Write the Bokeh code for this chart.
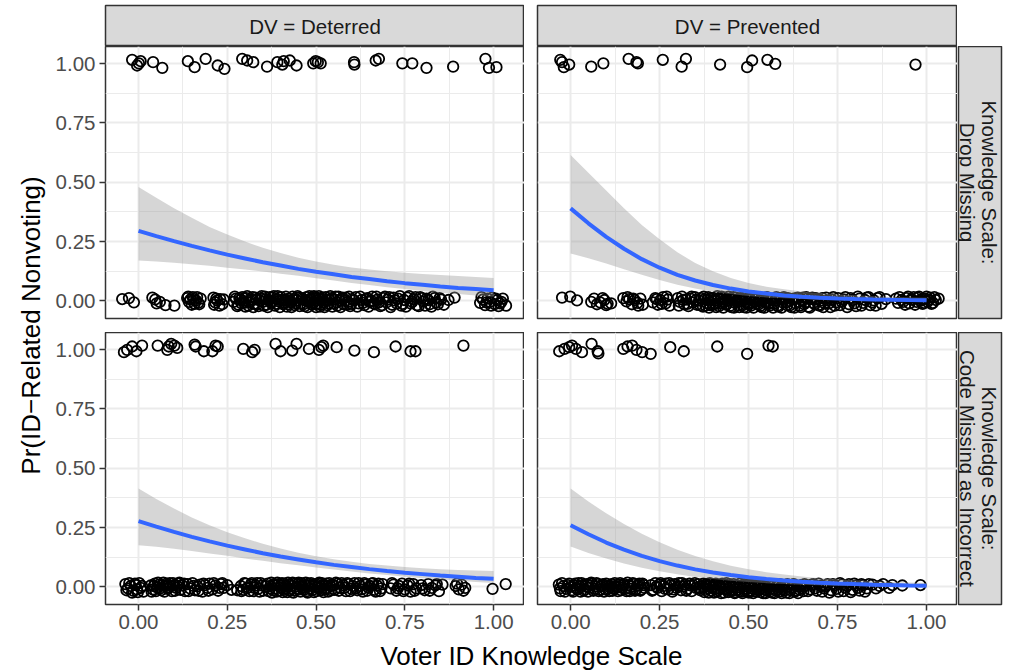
import math
from bokeh.plotting import figure
from bokeh.layouts import row, column
from bokeh.models import Spacer, FixedTicker, Range1d, Label, NumeralTickFormatter
from bokeh.embed import file_html
from bokeh.resources import INLINE

FONT = "Liberation Sans"

# ---------------- data ----------------
col_labels = ["DV = Deterred", "DV = Prevented"]
row_labels = [("Knowledge Scale:", "Drop Missing"),
              ("Knowledge Scale:", "Code Missing as Incorrect")]
x_ticks = [0.0, 0.25, 0.5, 0.75, 1.0]
x_minor = [0.125, 0.375, 0.625, 0.875]
y_ticks = [0.0, 0.25, 0.5, 0.75, 1.0]
y_minor = [0.125, 0.375, 0.625, 0.875]
x_label = "Voter ID Knowledge Scale"
y_label = "Pr(ID\u2212Related Nonvoting)"

fit_x = [0.0, 0.05, 0.1, 0.15, 0.2, 0.25, 0.3, 0.35, 0.4, 0.45, 0.5,
         0.55, 0.6, 0.65, 0.7, 0.75, 0.8, 0.85, 0.9, 0.95, 1.0]

# top-left: Deterred / Drop Missing
tl_fit = [0.295, 0.273, 0.252, 0.232, 0.213, 0.195, 0.179, 0.163, 0.149, 0.135, 0.123,
          0.112, 0.101, 0.092, 0.083, 0.075, 0.068, 0.061, 0.055, 0.05, 0.045]
tl_lo = [0.17, 0.166, 0.161, 0.155, 0.148, 0.14, 0.132, 0.124, 0.115, 0.106, 0.096,
         0.086, 0.076, 0.067, 0.058, 0.05, 0.042, 0.035, 0.029, 0.023, 0.018]
tl_hi = [0.48, 0.435, 0.39, 0.35, 0.312, 0.28, 0.25, 0.224, 0.202, 0.182, 0.166,
         0.152, 0.141, 0.132, 0.125, 0.119, 0.114, 0.109, 0.105, 0.101, 0.097]
# top-right: Prevented / Drop Missing
tr_fit = [0.39, 0.327, 0.27, 0.22, 0.176, 0.14, 0.11, 0.086, 0.067, 0.052, 0.04,
          0.031, 0.023, 0.018, 0.0137, 0.0105, 0.008, 0.006, 0.0046, 0.0035, 0.0027]
tr_lo = [0.2, 0.18, 0.158, 0.134, 0.11, 0.088, 0.068, 0.052, 0.039, 0.029, 0.021,
         0.015, 0.011, 0.008, 0.005, 0.0035, 0.0024, 0.0016, 0.0011, 0.0007, 0.0005]
tr_hi = [0.615, 0.54, 0.465, 0.39, 0.32, 0.26, 0.205, 0.16, 0.125, 0.097, 0.076,
         0.06, 0.049, 0.04, 0.033, 0.028, 0.024, 0.02, 0.017, 0.015, 0.013]
# bottom-left: Deterred / Code Missing as Incorrect
bl_fit = [0.277, 0.254, 0.232, 0.211, 0.192, 0.174, 0.158, 0.142, 0.128, 0.116, 0.104,
          0.093, 0.084, 0.075, 0.067, 0.06, 0.054, 0.048, 0.043, 0.038, 0.034]
bl_lo = [0.176, 0.169, 0.161, 0.151, 0.141, 0.131, 0.12, 0.11, 0.1, 0.091, 0.082,
         0.073, 0.065, 0.057, 0.05, 0.043, 0.037, 0.031, 0.026, 0.021, 0.017]
bl_hi = [0.415, 0.37, 0.33, 0.293, 0.26, 0.23, 0.205, 0.182, 0.162, 0.144, 0.129,
         0.117, 0.106, 0.097, 0.09, 0.084, 0.079, 0.075, 0.071, 0.069, 0.067]
# bottom-right: Prevented / Code Missing as Incorrect
br_fit = [0.26, 0.222, 0.187, 0.157, 0.131, 0.109, 0.09, 0.074, 0.061, 0.05, 0.041,
          0.0335, 0.0273, 0.0222, 0.018, 0.0147, 0.0119, 0.0097, 0.0079, 0.0064, 0.0052]
br_lo = [0.17, 0.143, 0.12, 0.099, 0.081, 0.066, 0.053, 0.042, 0.033, 0.026, 0.021,
         0.016, 0.012, 0.009, 0.007, 0.005, 0.004, 0.003, 0.002, 0.0015, 0.001]
br_hi = [0.415, 0.36, 0.31, 0.265, 0.224, 0.188, 0.157, 0.13, 0.108, 0.089, 0.074,
         0.062, 0.052, 0.044, 0.037, 0.032, 0.028, 0.024, 0.021, 0.019, 0.017]

# jittered observations (x, y)
tl_ones = [(-0.018, 1.016), (-0.004, 0.992), (0.001, 1.001), (0.006, 1.010), (0.041, 1.006),
           (0.067, 0.982), (0.139, 1.010), (0.158, 0.985), (0.189, 1.020), (0.223, 0.992),
           (0.242, 0.978), (0.292, 1.020), (0.306, 1.013), (0.323, 1.006), (0.362, 0.987),
           (0.391, 1.006), (0.405, 0.996), (0.409, 1.010), (0.426, 1.013), (0.445, 0.992),
           (0.492, 1.001), (0.499, 1.010), (0.505, 1.006), (0.513, 1.001), (0.607, 1.006),
           (0.608, 0.996), (0.668, 1.013), (0.677, 1.020), (0.743, 1.001), (0.771, 1.001),
           (0.811, 0.982), (0.886, 0.987), (0.977, 1.020), (0.987, 0.982), (1.008, 0.985)]
tl_zeros = [(-0.046, 0.008), (-0.027, 0.012), (-0.013, -0.006), (0.039, 0.014), (0.047, 0.006),
            (0.051, -0.01), (0.060, -0.004), (0.076, -0.018), (0.101, -0.02),
            (0.137, 0.012), (0.142, -0.004), (0.146, 0.006), (0.153, 0.016), (0.158, -0.012),
            (0.162, 0.002), (0.168, -0.008), (0.175, 0.01),
            (0.211, 0.014), (0.216, -0.006), (0.222, 0.002), (0.228, -0.02), (0.236, -0.014), (0.24, 0.006),
            (0.268, -0.004), (0.274, 0.01), (0.281, -0.016), (0.287, 0.004), (0.292, 0.016), (0.298, -0.008),
            (0.304, 0.012), (0.309, -0.02), (0.315, 0.0), (0.321, 0.016), (0.326, -0.012), (0.333, 0.006),
            (0.338, -0.022), (0.344, 0.012), (0.35, -0.004), (0.356, 0.018), (0.361, -0.016), (0.367, 0.004),
            (0.373, -0.008), (0.378, 0.014), (0.384, -0.02), (0.39, 0.008), (0.395, -0.002), (0.401, 0.016),
            (0.407, -0.014), (0.412, 0.004), (0.418, -0.024), (0.423, 0.01), (0.429, -0.006), (0.434, 0.018),
            (0.44, -0.018), (0.446, 0.002), (0.451, 0.014), (0.457, -0.01), (0.462, 0.006), (0.468, -0.022),
            (0.473, 0.016), (0.479, -0.004), (0.484, 0.01), (0.489, -0.016), (0.494, 0.02), (0.498, 0.0),
            (0.502, -0.012), (0.506, 0.012), (0.511, -0.024), (0.516, 0.006), (0.521, -0.006), (0.527, 0.016),
            (0.532, -0.018), (0.538, 0.004), (0.543, 0.012), (0.549, -0.01), (0.555, 0.018), (0.56, -0.02),
            (0.566, 0.002), (0.572, 0.01), (0.578, -0.014), (0.584, 0.014), (0.59, -0.004), (0.596, -0.022),
            (0.602, 0.008), (0.612, 0.016), (0.62, -0.01), (0.628, 0.004), (0.636, -0.018), (0.644, 0.012),
            (0.651, -0.004), (0.658, 0.018), (0.666, -0.014), (0.673, 0.006), (0.681, -0.022), (0.69, 0.012),
            (0.698, -0.006), (0.706, 0.016), (0.714, -0.016), (0.722, 0.002), (0.731, 0.01), (0.74, -0.02),
            (0.748, 0.004), (0.757, 0.014), (0.766, -0.01), (0.775, 0.008), (0.784, -0.018), (0.793, 0.016),
            (0.802, -0.002), (0.811, 0.01), (0.82, -0.014), (0.829, 0.018), (0.838, -0.006), (0.848, 0.012),
            (0.86, -0.016), (0.873, 0.004), (0.89, 0.014),
            (0.962, -0.008), (0.97, 0.006), (0.976, -0.018), (0.983, 0.01), (0.99, -0.004), (0.996, 0.014),
            (1.003, -0.014), (1.01, 0.004), (1.018, -0.01), (1.026, 0.01), (1.035, -0.02)]
tl_zeros_more = [(0.14, 0.018), (0.15, -0.016), (0.156, 0.008), (0.165, 0.016), (0.171, -0.014),
                 (0.213, -0.016), (0.219, 0.01), (0.23, 0.008), (0.271, 0.018), (0.278, -0.022),
                 (0.284, 0.012), (0.29, -0.01), (0.295, 0.0), (0.301, -0.024), (0.306, 0.02),
                 (0.312, -0.006), (0.318, 0.008), (0.323, -0.026), (0.329, 0.014), (0.335, -0.014),
                 (0.341, 0.004), (0.347, 0.02), (0.353, -0.02), (0.358, 0.008), (0.364, -0.026),
                 (0.37, 0.016), (0.375, -0.002), (0.381, 0.02), (0.387, -0.012), (0.392, 0.02),
                 (0.398, -0.026), (0.404, 0.004), (0.41, -0.008), (0.415, 0.018), (0.421, -0.014),
                 (0.426, 0.0), (0.431, -0.026), (0.437, 0.008), (0.443, -0.01), (0.448, 0.02),
                 (0.454, -0.022), (0.46, 0.012), (0.465, -0.014), (0.47, 0.002), (0.476, -0.026),
                 (0.481, 0.02), (0.487, 0.004), (0.492, -0.008), (0.496, 0.016), (0.5, -0.026),
                 (0.504, 0.004), (0.508, 0.02), (0.513, -0.016), (0.518, 0.014), (0.524, -0.026),
                 (0.53, 0.002), (0.535, -0.01), (0.54, 0.02), (0.546, -0.024), (0.552, 0.006),
                 (0.558, -0.006), (0.563, 0.018), (0.569, -0.026), (0.575, 0.014), (0.581, 0.0),
                 (0.587, -0.016), (0.593, 0.018), (0.599, -0.012), (0.607, 0.002), (0.616, -0.024),
                 (0.624, 0.018), (0.632, -0.008), (0.64, 0.008), (0.648, -0.024), (0.655, 0.002),
                 (0.662, -0.01), (0.67, 0.018), (0.677, -0.006), (0.686, -0.018), (0.694, 0.018),
                 (0.702, 0.006), (0.71, -0.026), (0.718, 0.014), (0.727, -0.01), (0.736, 0.02),
                 (0.744, -0.012), (0.753, -0.024), (0.762, 0.02), (0.771, -0.004), (0.78, 0.016),
                 (0.789, -0.022), (0.798, 0.012), (0.807, -0.02), (0.816, 0.004), (0.825, -0.024),
                 (0.834, 0.012), (0.843, -0.014), (0.852, 0.006), (0.966, 0.016), (0.98, -0.006),
                 (0.993, -0.02), (1.006, 0.01), (1.014, -0.022), (1.022, -0.004)]

tr_ones = [(-0.029, 1.016), (-0.024, 1.006), (-0.019, 0.985), (-0.004, 0.996), (0.058, 0.987),
           (0.092, 1.001), (0.163, 1.020), (0.185, 1.006), (0.189, 1.001), (0.259, 1.016),
           (0.312, 0.987), (0.324, 1.020), (0.420, 0.996), (0.496, 0.985), (0.510, 1.013),
           (0.553, 1.016), (0.575, 0.999), (0.969, 0.996)]
tr_zeros = [(-0.024, 0.014), (-0.001, 0.018), (0.018, 0.002), (0.058, -0.004), (0.066, 0.01),
            (0.074, -0.014), (0.083, -0.006), (0.095, 0.004), (0.104, -0.012), (0.114, -0.01),
            (0.148, 0.012), (0.157, -0.002), (0.165, 0.008), (0.172, -0.014), (0.18, 0.004),
            (0.188, -0.008), (0.196, 0.01), (0.203, -0.016),
            (0.231, -0.006), (0.238, 0.012), (0.245, -0.016), (0.252, 0.004), (0.26, 0.016),
            (0.267, -0.01), (0.273, 0.006), (0.278, -0.02),
            (0.301, 0.012), (0.307, -0.004), (0.313, 0.018), (0.319, -0.014), (0.325, 0.006),
            (0.331, -0.022), (0.337, 0.01), (0.343, -0.006), (0.349, 0.016), (0.355, -0.016),
            (0.361, 0.002), (0.367, 0.012), (0.372, -0.024),
            (0.377, 0.008), (0.382, -0.008), (0.387, 0.016), (0.392, -0.018), (0.397, 0.002),
            (0.402, 0.012), (0.407, -0.012), (0.412, 0.02), (0.417, -0.022), (0.422, 0.006),
            (0.427, -0.004), (0.432, 0.014), (0.437, -0.016), (0.442, 0.0), (0.447, 0.01),
            (0.452, -0.026), (0.457, 0.016), (0.462, -0.008), (0.467, 0.004), (0.472, -0.018),
            (0.477, 0.012), (0.482, -0.002), (0.487, -0.026), (0.492, 0.018), (0.497, -0.01),
            (0.502, 0.006), (0.507, -0.02), (0.512, 0.012), (0.517, -0.004), (0.522, 0.016),
            (0.527, -0.016), (0.532, 0.002), (0.537, -0.026), (0.542, 0.01), (0.548, -0.008),
            (0.554, 0.014), (0.56, -0.02), (0.566, 0.004), (0.572, -0.012), (0.578, 0.016),
            (0.584, -0.024), (0.59, 0.006), (0.596, -0.006), (0.602, 0.012), (0.608, -0.018),
            (0.614, 0.0), (0.62, -0.026), (0.626, 0.01), (0.632, -0.01), (0.638, 0.014),
            (0.644, -0.02), (0.65, 0.004), (0.656, -0.014), (0.662, 0.016), (0.668, -0.024),
            (0.675, 0.008), (0.682, -0.008), (0.689, 0.012), (0.696, -0.018), (0.703, 0.002),
            (0.71, -0.026), (0.718, 0.014), (0.726, -0.01), (0.734, 0.006), (0.742, -0.02),
            (0.752, 0.012), (0.762, -0.004), (0.772, 0.016), (0.782, -0.014), (0.792, 0.004),
            (0.802, -0.022), (0.812, 0.01), (0.822, -0.008), (0.832, 0.014), (0.842, -0.018),
            (0.852, 0.002), (0.862, 0.012), (0.874, -0.012), (0.886, 0.008),
            (0.914, 0.01), (0.924, 0.016), (0.934, -0.004), (0.944, 0.012), (0.952, -0.01),
            (0.96, 0.006), (0.968, -0.016), (0.975, 0.014), (0.982, 0.0), (0.989, -0.012),
            (0.996, 0.01), (1.003, -0.004), (1.01, 0.014), (1.018, -0.008), (1.026, 0.004), (1.034, 0.01)]
tr_zeros_more = [(0.09, 0.012), (0.1, -0.018), (0.16, 0.016), (0.176, 0.01), (0.19, -0.02),
                 (0.242, 0.008), (0.256, -0.012), (0.27, 0.018), (0.304, -0.02), (0.316, 0.004),
                 (0.328, -0.012), (0.34, 0.018), (0.352, 0.004), (0.364, -0.018), (0.374, 0.018),
                 (0.379, -0.02), (0.384, 0.004), (0.389, -0.028), (0.394, 0.012), (0.399, -0.016),
                 (0.404, 0.002), (0.409, -0.026), (0.414, 0.01), (0.419, -0.01), (0.424, 0.018),
                 (0.429, -0.028), (0.434, 0.004), (0.439, -0.014), (0.444, 0.018), (0.449, -0.02),
                 (0.454, 0.006), (0.459, -0.028), (0.464, 0.014), (0.469, -0.004), (0.474, -0.026),
                 (0.479, 0.008), (0.484, -0.018), (0.489, 0.006), (0.494, -0.028), (0.499, 0.012),
                 (0.504, -0.012), (0.509, 0.02), (0.514, -0.028), (0.519, 0.008), (0.524, -0.01),
                 (0.529, 0.014), (0.534, -0.02), (0.539, 0.004), (0.545, -0.028), (0.551, 0.016),
                 (0.557, -0.012), (0.563, 0.008), (0.569, -0.028), (0.575, 0.002), (0.581, -0.02),
                 (0.587, 0.012), (0.593, -0.028), (0.599, 0.016), (0.605, -0.006), (0.611, 0.012),
                 (0.617, -0.018), (0.623, 0.006), (0.629, -0.028), (0.635, 0.012), (0.641, -0.004),
                 (0.647, -0.026), (0.653, 0.014), (0.659, -0.006), (0.665, 0.01), (0.672, -0.028),
                 (0.679, 0.014), (0.686, -0.014), (0.693, 0.006), (0.7, -0.02), (0.707, 0.012),
                 (0.714, -0.01), (0.722, 0.002), (0.73, -0.026), (0.738, 0.016), (0.746, -0.006),
                 (0.757, -0.018), (0.767, 0.006), (0.777, -0.026), (0.787, 0.012), (0.797, -0.01),
                 (0.807, 0.018), (0.817, -0.02), (0.827, 0.004), (0.837, 0.016), (0.847, -0.006),
                 (0.857, -0.02), (0.868, 0.016), (0.92, -0.008), (0.93, 0.004), (0.94, -0.016),
                 (0.948, 0.018), (0.956, 0.006), (0.964, 0.016), (0.972, -0.004), (0.979, 0.018),
                 (0.986, 0.006), (0.993, -0.008), (1.0, 0.018), (1.007, 0.004), (1.014, -0.012),
                 (1.022, 0.016)]

bl_ones = [(-0.041, 0.989), (-0.032, 0.999), (-0.018, 1.013), (-0.006, 0.993), (0.010, 1.017),
           (0.054, 1.017), (0.081, 0.999), (0.085, 1.013), (0.092, 1.024), (0.101, 1.017),
           (0.109, 1.007), (0.158, 1.021), (0.161, 1.013), (0.184, 0.993), (0.208, 0.993),
           (0.217, 1.017), (0.223, 1.013), (0.295, 1.003), (0.320, 0.989), (0.327, 0.999),
           (0.386, 1.024), (0.400, 0.993), (0.433, 0.996), (0.445, 1.024), (0.480, 1.003),
           (0.508, 0.999), (0.515, 1.010), (0.520, 1.017), (0.558, 1.010), (0.608, 0.996),
           (0.663, 0.989), (0.724, 1.013), (0.766, 0.993), (0.780, 0.993), (0.915, 1.017)]
bl_zeros = [(-0.037, 0.012), (-0.03, -0.006), (-0.022, 0.004), (-0.015, -0.016), (-0.008, 0.008),
            (-0.002, -0.022), (0.006, -0.004), (0.014, -0.02),
            (0.034, 0.006), (0.04, -0.01), (0.046, 0.014), (0.052, -0.002), (0.058, 0.01),
            (0.064, -0.014), (0.07, 0.018), (0.076, 0.004), (0.082, -0.008), (0.088, 0.016),
            (0.094, -0.018), (0.1, 0.008), (0.106, -0.004), (0.112, 0.014), (0.118, -0.012),
            (0.124, 0.006), (0.131, -0.018), (0.138, 0.012), (0.145, -0.006), (0.152, 0.016),
            (0.159, -0.014), (0.166, 0.002), (0.173, 0.01), (0.18, -0.02), (0.187, 0.008),
            (0.194, -0.004), (0.2, 0.014),
            (0.208, -0.01), (0.216, 0.006), (0.224, -0.016), (0.232, 0.012), (0.24, -0.004),
            (0.25, 0.008), (0.262, -0.012), (0.278, -0.014),
            (0.288, 0.004), (0.295, -0.012), (0.302, 0.014), (0.309, -0.002), (0.316, 0.01),
            (0.323, -0.018), (0.33, 0.006), (0.337, -0.008), (0.344, 0.016), (0.351, -0.016),
            (0.358, 0.002),
            (0.364, 0.014), (0.369, -0.006), (0.374, 0.018), (0.379, -0.014), (0.384, 0.008),
            (0.389, -0.02), (0.394, 0.012), (0.399, -0.002), (0.404, 0.016), (0.409, -0.012),
            (0.414, 0.004), (0.419, -0.022), (0.424, 0.01), (0.429, -0.008), (0.434, 0.018),
            (0.439, -0.016), (0.444, 0.002), (0.449, 0.012), (0.454, -0.01),
            (0.459, 0.016), (0.464, -0.004), (0.469, 0.008), (0.474, -0.018), (0.479, 0.014),
            (0.484, -0.008), (0.489, 0.004), (0.494, -0.022), (0.499, 0.012), (0.504, -0.002),
            (0.509, 0.018), (0.514, -0.014), (0.519, 0.006), (0.524, -0.01), (0.529, 0.014),
            (0.534, -0.02), (0.54, 0.004), (0.546, 0.01),
            (0.552, -0.012), (0.56, 0.014), (0.568, -0.004), (0.576, 0.008), (0.584, -0.018),
            (0.592, 0.012), (0.6, -0.008), (0.608, 0.016), (0.616, -0.014), (0.624, 0.004),
            (0.632, -0.02), (0.64, 0.01), (0.648, -0.004), (0.656, 0.014), (0.664, -0.012),
            (0.672, 0.006), (0.68, -0.018), (0.688, 0.012),
            (0.71, -0.006), (0.718, 0.01), (0.726, -0.016), (0.734, 0.004), (0.742, 0.014),
            (0.75, -0.01), (0.758, 0.006), (0.766, -0.02), (0.774, 0.012), (0.782, -0.006),
            (0.796, 0.008), (0.806, -0.014), (0.816, 0.012), (0.826, -0.004), (0.836, 0.006),
            (0.846, -0.018), (0.856, 0.01),
            (0.893, 0.004), (0.902, -0.01), (0.91, 0.01), (0.92, -0.004),
            (0.997, -0.008), (1.034, 0.012)]
bl_zeros_more = [(-0.034, -0.014), (-0.026, 0.016), (-0.018, -0.024), (-0.01, 0.014), (-0.004, -0.01),
                 (0.002, 0.016), (0.01, 0.004), (0.037, -0.02), (0.043, 0.004), (0.049, -0.018),
                 (0.055, 0.018), (0.061, -0.006), (0.067, 0.008), (0.073, -0.02), (0.079, 0.014),
                 (0.085, -0.002), (0.091, 0.004), (0.097, 0.016), (0.103, -0.016), (0.109, 0.004),
                 (0.115, 0.018), (0.128, 0.014), (0.141, -0.018), (0.155, 0.004), (0.169, -0.016),
                 (0.183, 0.014), (0.197, -0.016), (0.212, 0.016), (0.228, -0.004), (0.236, 0.016),
                 (0.29, -0.018), (0.298, 0.016), (0.305, -0.006), (0.312, -0.018), (0.319, 0.016),
                 (0.326, -0.004), (0.334, 0.016), (0.341, -0.02), (0.348, 0.006), (0.366, -0.018),
                 (0.371, 0.004), (0.376, -0.024), (0.381, 0.012), (0.386, -0.006), (0.391, 0.018),
                 (0.396, -0.016), (0.401, 0.006), (0.406, -0.022), (0.411, 0.014), (0.416, -0.006),
                 (0.421, 0.018), (0.426, -0.016), (0.431, 0.004), (0.436, -0.024), (0.441, 0.014),
                 (0.446, -0.008), (0.451, 0.018), (0.456, -0.02), (0.461, 0.004), (0.466, -0.012),
                 (0.471, 0.018), (0.476, -0.024), (0.481, 0.006), (0.486, 0.016), (0.491, -0.012),
                 (0.496, 0.008), (0.501, -0.018), (0.506, 0.014), (0.511, -0.004), (0.516, 0.016),
                 (0.521, -0.022), (0.526, 0.006), (0.531, -0.006), (0.537, 0.016), (0.543, -0.014),
                 (0.549, 0.006), (0.556, 0.018), (0.564, -0.016), (0.572, 0.016), (0.58, -0.004),
                 (0.588, 0.016), (0.596, -0.018), (0.604, 0.004), (0.612, -0.006), (0.62, 0.016),
                 (0.628, -0.01), (0.636, 0.016), (0.644, -0.016), (0.652, 0.004), (0.66, 0.016),
                 (0.668, -0.02), (0.676, 0.014), (0.684, -0.006), (0.714, 0.016), (0.73, -0.006),
                 (0.746, -0.018), (0.762, 0.014), (0.778, -0.016), (0.8, -0.006), (0.82, -0.016),
                 (0.84, 0.012), (0.897, 0.014), (0.915, -0.016)]

br_ones = [(-0.032, 0.993), (-0.017, 1.003), (-0.004, 1.010), (0.004, 1.017), (0.015, 1.003),
           (0.032, 0.989), (0.059, 1.024), (0.076, 0.993), (0.078, 0.984), (0.148, 1.003),
           (0.160, 1.013), (0.173, 1.017), (0.185, 0.999), (0.201, 0.989), (0.225, 0.982),
           (0.280, 1.010), (0.318, 0.993), (0.412, 1.013), (0.496, 0.982), (0.556, 1.017),
           (0.568, 1.013)]
br_zeros = [(-0.033, 0.01), (-0.028, -0.018), (-0.02, 0.004), (-0.012, -0.008), (-0.004, 0.014),
            (0.004, -0.014), (0.01, 0.006), (0.016, -0.004), (0.022, 0.016), (0.028, -0.02),
            (0.034, 0.008), (0.04, -0.01), (0.046, 0.012), (0.052, -0.004), (0.058, 0.018),
            (0.064, -0.016), (0.07, 0.002), (0.076, 0.012), (0.082, -0.012), (0.088, 0.008),
            (0.094, -0.02), (0.1, 0.014), (0.106, -0.006), (0.112, 0.004), (0.118, -0.016),
            (0.124, 0.016), (0.13, -0.002), (0.136, 0.01), (0.142, -0.014), (0.148, 0.006),
            (0.154, -0.008), (0.16, 0.018), (0.166, -0.018), (0.172, 0.002), (0.178, 0.012),
            (0.184, -0.01), (0.19, 0.008), (0.196, -0.016), (0.202, 0.014), (0.208, -0.004),
            (0.226, 0.008), (0.232, -0.012), (0.238, 0.016), (0.244, -0.004), (0.25, 0.01),
            (0.256, -0.018), (0.262, 0.004), (0.268, 0.014), (0.274, -0.01), (0.28, 0.006),
            (0.286, -0.02), (0.292, 0.012), (0.298, -0.004), (0.304, 0.016), (0.31, -0.014),
            (0.316, 0.002), (0.322, 0.01), (0.328, -0.008), (0.334, 0.014), (0.34, -0.018),
            (0.346, 0.006), (0.352, -0.004), (0.358, 0.012), (0.364, -0.014), (0.37, 0.004),
            (0.376, -0.022), (0.381, 0.012), (0.386, -0.006), (0.391, 0.016), (0.396, -0.016),
            (0.401, 0.002), (0.406, 0.01), (0.411, -0.02), (0.416, 0.008), (0.421, -0.008),
            (0.426, 0.014), (0.431, -0.024), (0.436, 0.004), (0.441, -0.012), (0.446, 0.012),
            (0.451, -0.018), (0.456, 0.0), (0.461, -0.026), (0.466, 0.008), (0.471, -0.01),
            (0.476, 0.014), (0.481, -0.02), (0.486, 0.002), (0.491, -0.014), (0.496, 0.01),
            (0.501, -0.024), (0.506, 0.006), (0.511, -0.006), (0.516, 0.012), (0.521, -0.02),
            (0.526, 0.002), (0.531, -0.012), (0.536, 0.008), (0.541, -0.026), (0.546, 0.004),
            (0.551, -0.016), (0.556, 0.01), (0.561, -0.008), (0.566, -0.024), (0.571, 0.006),
            (0.576, -0.014), (0.581, 0.01), (0.586, -0.02), (0.591, 0.0), (0.596, -0.01),
            (0.601, 0.008), (0.606, -0.024), (0.612, 0.004), (0.618, -0.014), (0.624, 0.01),
            (0.63, -0.02), (0.636, 0.002), (0.642, -0.01), (0.648, 0.008), (0.654, -0.018),
            (0.662, 0.006), (0.672, -0.01), (0.682, 0.012), (0.692, -0.016), (0.702, 0.004),
            (0.712, -0.006), (0.722, 0.012), (0.732, -0.014), (0.742, 0.006), (0.752, -0.02),
            (0.762, 0.01), (0.772, -0.004), (0.782, 0.012), (0.792, -0.012), (0.802, 0.006),
            (0.812, -0.016), (0.822, 0.008), (0.832, -0.006),
            (0.848, 0.01), (0.868, 0.004), (0.904, 0.008), (0.932, 0.006), (0.983, 0.008)]
br_zeros_more = [(-0.03, -0.006), (-0.024, 0.016), (-0.016, -0.02), (-0.008, 0.008), (0.0, 0.0),
                 (0.007, -0.02), (0.013, 0.014), (0.019, -0.01), (0.025, 0.004), (0.031, 0.016),
                 (0.037, -0.016), (0.043, 0.002), (0.049, -0.02), (0.055, 0.006), (0.061, 0.014),
                 (0.067, -0.008), (0.073, 0.016), (0.079, -0.018), (0.085, 0.002), (0.091, 0.012),
                 (0.097, -0.01), (0.103, 0.004), (0.109, -0.018), (0.115, 0.012), (0.121, -0.008),
                 (0.127, 0.004), (0.133, -0.018), (0.139, 0.016), (0.145, -0.004), (0.151, 0.012),
                 (0.157, -0.018), (0.163, 0.006), (0.169, -0.008), (0.175, 0.016), (0.181, -0.016),
                 (0.187, 0.004), (0.193, 0.014), (0.199, -0.01), (0.205, 0.008), (0.229, -0.016),
                 (0.241, 0.002), (0.253, 0.016), (0.265, -0.008), (0.277, 0.016), (0.289, -0.01),
                 (0.301, 0.004), (0.313, 0.016), (0.325, -0.016), (0.337, 0.006), (0.349, 0.016),
                 (0.361, -0.006), (0.373, 0.014), (0.378, -0.012), (0.383, 0.004), (0.388, -0.024),
                 (0.393, 0.012), (0.398, -0.004), (0.403, -0.024), (0.408, 0.014), (0.413, -0.012),
                 (0.418, 0.004), (0.423, -0.026), (0.428, 0.01), (0.433, -0.008), (0.438, 0.016),
                 (0.443, -0.022), (0.448, 0.004), (0.453, -0.012), (0.458, 0.012), (0.463, -0.022),
                 (0.468, -0.002), (0.473, -0.018), (0.478, 0.004), (0.483, -0.026), (0.488, 0.012),
                 (0.493, -0.006), (0.498, -0.02), (0.503, 0.012), (0.508, -0.016), (0.513, -0.026),
                 (0.518, 0.004), (0.523, -0.01), (0.528, 0.012), (0.533, -0.022), (0.538, -0.004),
                 (0.543, 0.012), (0.548, -0.026), (0.553, -0.006), (0.558, 0.008), (0.563, -0.018),
                 (0.568, 0.012), (0.573, -0.026), (0.578, 0.002), (0.583, -0.012), (0.588, 0.012),
                 (0.593, -0.026), (0.598, 0.004), (0.603, -0.014), (0.609, 0.012), (0.615, -0.026),
                 (0.621, -0.004), (0.627, 0.012), (0.633, -0.016), (0.639, -0.026), (0.645, 0.004),
                 (0.651, -0.006), (0.657, 0.012), (0.667, -0.018), (0.677, 0.01), (0.687, -0.006),
                 (0.697, 0.014), (0.707, -0.02), (0.717, 0.002), (0.727, -0.024), (0.737, 0.012),
                 (0.747, -0.008), (0.757, 0.016), (0.767, -0.018), (0.777, 0.004), (0.787, -0.022),
                 (0.797, 0.014), (0.807, -0.004), (0.817, 0.012), (0.827, -0.02), (0.838, 0.012),
                 (0.858, -0.006), (0.878, 0.012), (0.895, -0.004)]

# ---------------- styling ----------------
X_RANGE = (-0.093, 1.087)
Y_RANGE = (-0.074, 1.072)
BORDER = "#333333"
TICK_FS = "20.5px"
STRIP_FS = "20.5px"
TITLE_FS = "26px"


def style_axis(ax, ticks):
    ax.ticker = FixedTicker(ticks=ticks)
    ax.formatter = NumeralTickFormatter(format="0.00")
    ax.axis_line_color = None
    ax.major_tick_line_color = BORDER
    ax.major_tick_line_width = 1.5
    ax.major_tick_out = 6
    ax.major_tick_in = 0
    ax.minor_tick_line_color = None
    ax.major_label_text_font = FONT
    ax.major_label_text_font_size = TICK_FS
    ax.major_label_text_color = "#4D4D4D"
    ax.major_label_standoff = 4


def make_panel(w, h, left, bottom, show_x, show_y, pts, fit, lo, hi):
    p = figure(width=w, height=h, x_range=Range1d(*X_RANGE), y_range=Range1d(*Y_RANGE),
               output_backend="svg", toolbar_location=None,
               x_axis_location="below" if show_x else None,
               y_axis_location="left" if show_y else None,
               min_border_left=left, min_border_right=0, min_border_top=0,
               min_border_bottom=bottom)
    p.outline_line_color = BORDER
    p.outline_line_width = 1.5
    p.background_fill_color = "white"
    p.border_fill_color = "white"
    p.xgrid.ticker = FixedTicker(ticks=x_ticks, minor_ticks=x_minor)
    p.ygrid.ticker = FixedTicker(ticks=y_ticks, minor_ticks=y_minor)
    p.grid.grid_line_color = "#EBEBEB"
    p.grid.grid_line_width = 2
    p.grid.minor_grid_line_color = "#EBEBEB"
    p.grid.minor_grid_line_width = 1
    if show_x:
        style_axis(p.xaxis[0], x_ticks)
    if show_y:
        style_axis(p.yaxis[0], y_ticks)
    p.scatter([a for a, b in pts], [b for a, b in pts], marker="circle", size=10.5,
              fill_color=None, line_color="black", line_width=1.8)
    p.varea(x=fit_x, y1=lo, y2=hi, fill_color="#999999", fill_alpha=0.4)
    p.line(fit_x, fit, line_color="#3366FF", line_width=4)
    return p


def blank_fig(w, h, left, right, top, bottom):
    f = figure(width=w, height=h, x_range=Range1d(0, 1), y_range=Range1d(0, 1),
               output_backend="svg", toolbar_location=None,
               x_axis_location=None, y_axis_location=None,
               min_border_left=left, min_border_right=right,
               min_border_top=top, min_border_bottom=bottom)
    f.grid.visible = False
    f.border_fill_color = "white"
    return f


def top_strip(w, left, text):
    s = blank_fig(w, 46, left, 0, 5, 0)
    s.background_fill_color = "#D9D9D9"
    s.outline_line_color = BORDER
    s.outline_line_width = 1.5
    s.add_layout(Label(x=0.5, y=0.5, text=text, text_align="center", text_baseline="middle",
                       text_font=FONT, text_font_size=STRIP_FS, text_color="#1A1A1A"))
    return s


def right_strip(h, bottom, lines):
    s = blank_fig(56, h, 1, 12, 0, bottom)
    s.background_fill_color = "#D9D9D9"
    s.outline_line_color = BORDER
    s.outline_line_width = 1.5
    for xpos, t in zip([0.72, 0.20], lines):
        s.add_layout(Label(x=xpos, y=0.5, text=t, angle=-math.pi / 2,
                           text_align="center", text_baseline="middle",
                           text_font=FONT, text_font_size=STRIP_FS, text_color="#1A1A1A"))
    return s


# ---------------- build ----------------
LEFT_W = 48
p_tl = make_panel(476, 286, 57, 14, False, True, tl_ones + tl_zeros + tl_zeros_more,
                  tl_fit, tl_lo, tl_hi)
p_tr = make_panel(433, 286, 13, 14, False, False, tr_ones + tr_zeros + tr_zeros_more,
                  tr_fit, tr_lo, tr_hi)
p_bl = make_panel(476, 308, 57, 36, True, True, bl_ones + bl_zeros + bl_zeros_more,
                  bl_fit, bl_lo, bl_hi)
p_br = make_panel(433, 308, 13, 36, True, False, br_ones + br_zeros + br_zeros_more,
                  br_fit, br_lo, br_hi)

s_tl = top_strip(476, 57, col_labels[0])
s_tr = top_strip(433, 13, col_labels[1])
s_r1 = right_strip(286, 14, row_labels[0])
s_r2 = right_strip(308, 36, row_labels[1])

ylab = blank_fig(LEFT_W, 670, 0, 0, 46, 66)
ylab.outline_line_color = None
ylab.add_layout(Label(x=0.625, y=0.5, text=y_label, angle=math.pi / 2,
                      text_align="center", text_baseline="middle",
                      text_font=FONT, text_font_size=TITLE_FS, text_color="black"))

xlab = blank_fig(965, 30, 57, 56, 0, 0)
xlab.outline_line_color = None
xlab.add_layout(Label(x=0.5, y=0.5, text=x_label, text_align="center", text_baseline="middle",
                      text_font=FONT, text_font_size=TITLE_FS, text_color="black"))

layout = row(
    ylab,
    column(
        row(s_tl, s_tr, Spacer(width=56, height=46)),
        row(p_tl, p_tr, s_r1),
        row(p_bl, p_br, s_r2),
        xlab,
    ),
)

with open("out.html", "w") as f:
    f.write(file_html(layout, INLINE))
